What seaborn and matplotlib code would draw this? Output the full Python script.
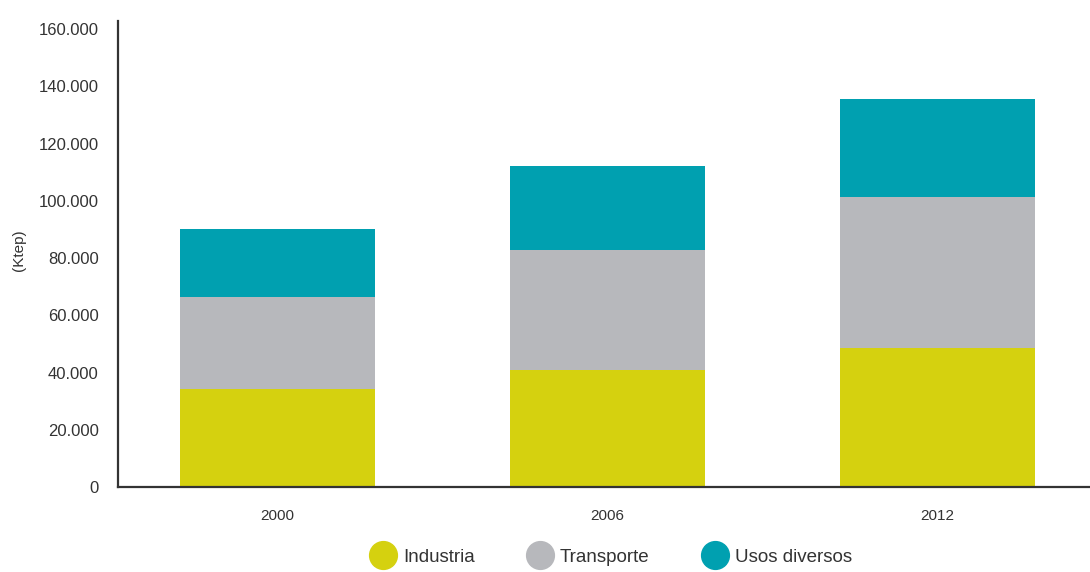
import matplotlib
matplotlib.use("Agg")
import matplotlib.pyplot as plt
from matplotlib.lines import Line2D
from matplotlib.ticker import FuncFormatter, MultipleLocator
import numpy as np
import pandas as pd
import seaborn as sns

# Consumo de energía final por sector (Ktep)
years = ["2000", "2006", "2012"]
industria = [34200, 40900, 48700]
transporte = [32200, 41900, 52600]
usos_diversos = [23700, 29300, 34200]

series_names = ["Industria", "Transporte", "Usos diversos"]
colors = ["#D5D10F", "#B7B8BC", "#00A0B0"]
text_color = "#333333"

sns.set_theme(style="white")
plt.rcParams["font.family"] = ["Liberation Sans", "DejaVu Sans"]

fig = plt.figure(figsize=(10.9, 5.72), dpi=100)
ax = fig.add_axes([118 / 1090, 1 - 487 / 572, 1 - 118 / 1090, (487 - 21) / 572])

# Stacked bars: draw cumulative totals from the top layer down
stack = np.vstack([industria, transporte, usos_diversos])
cum = np.cumsum(stack, axis=0)
for i in reversed(range(len(series_names))):
    df = pd.DataFrame({"year": years, "value": cum[i]})
    sns.barplot(data=df, x="year", y="value", color=colors[i], width=0.59,
                linewidth=0, saturation=1, ax=ax)

ax.set_xlim(-0.483, 2.462)
ax.set_ylim(0, 162800)
ax.yaxis.set_major_locator(MultipleLocator(20000))
ax.yaxis.set_major_formatter(FuncFormatter(lambda v, p: f"{int(v):,}".replace(",", ".")))

ax.set_xlabel("")
ax.set_ylabel("(Ktep)", fontsize=11, color=text_color)
ax.yaxis.set_label_coords(-0.095, 0.509)
ax.tick_params(axis="y", length=0, pad=14, labelsize=12, labelcolor=text_color)
ax.tick_params(axis="x", length=0, pad=16, labelsize=11, labelcolor=text_color)

for side in ["top", "right"]:
    ax.spines[side].set_visible(False)
for side in ["left", "bottom"]:
    ax.spines[side].set_color(text_color)
    ax.spines[side].set_linewidth(1.6)

handles = [Line2D([], [], linestyle="none", marker="o", markersize=20,
                  markerfacecolor=c, markeredgecolor=c) for c in colors]
fig.legend(handles, series_names, loc="center", ncol=3,
           bbox_to_anchor=(612 / 1090, 1 - 557 / 572), frameon=False,
           fontsize=13.5, labelcolor=text_color, handletextpad=0.45,
           columnspacing=2.9, handlelength=1.2)

fig.savefig("out.png", dpi=100)
